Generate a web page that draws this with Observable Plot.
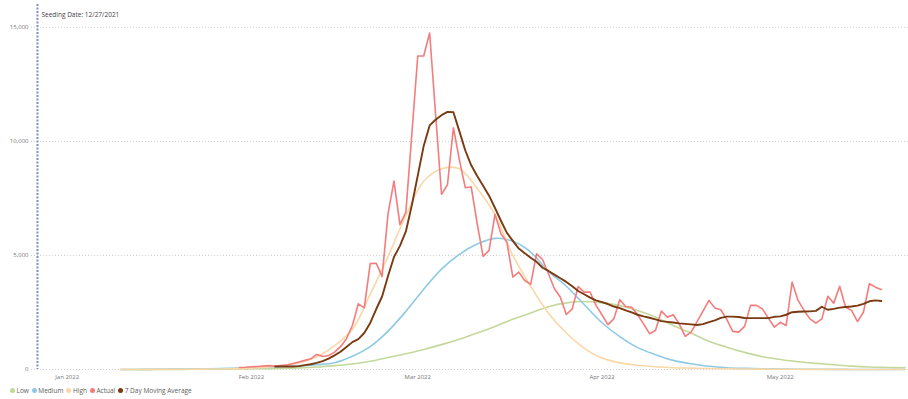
<!DOCTYPE html>
<html><head><meta charset="utf-8">
<script src="https://cdn.jsdelivr.net/npm/d3@7"></script>
<script src="https://cdn.jsdelivr.net/npm/@observablehq/plot@0.6"></script>
<style>
body{margin:0;background:#fff;font-family:"Open Sans",sans-serif;}
#legend{display:flex;align-items:center;height:17px;padding-left:10px;font-size:6.5px;color:#605e5c;}
.item{display:flex;align-items:center;margin-right:3px;}
.dot{width:5px;height:5px;border-radius:50%;margin-right:1.5px;}
</style></head><body><div id="chart"></div><div id="legend"></div>
<script>
// ---- data ----
const seedDate = "2021-12-27";
const seedLabel = "Seeding Date: 12/27/2021";
const yTicks = [0, 5000, 10000, 15000];
const monthTicks = ["2022-01-01", "2022-02-01", "2022-03-01", "2022-04-01", "2022-05-01"];

// Actual daily cases, Jan 30 2022 onward
const actualStart = "2022-01-30";
const actual = [90,100,120,130,150,170,140,175,200,260,330,400,470,660,570,610,760,1000,1350,1930,
2880,2700,4640,4660,4080,6830,8260,6350,6900,10300,13740,13740,14750,11200,7680,8100,10600,9200,7970,8000,
6390,4960,5220,6800,5950,5580,4050,4270,3900,3730,5070,4820,4200,3540,3170,2410,2660,3640,3390,3390,
2810,2400,1970,2220,3060,2760,2730,2400,2000,1570,1710,2560,2290,2400,2000,1450,1640,2100,2560,3030,
2700,2620,2200,1670,1640,1890,2810,2810,2660,2250,1860,2070,1930,3830,3030,2590,2220,2030,2220,3210,
2910,3650,2730,2590,2100,2510,3760,3610,3510];

// 7 day moving average, Feb 5 2022 onward
const avgStart = "2022-02-05";
const movingAvg = [130,130,130,130,150,190,230,290,365,480,620,780,990,1200,1330,1600,2040,2640,3200,4100,
4930,5420,6050,7200,8500,9800,10700,10950,11150,11290,11280,10450,9600,8950,8480,8050,7620,7080,6520,5990,
5640,5300,5100,4900,4720,4460,4320,4160,4000,3840,3650,3440,3300,3150,3030,2950,2870,2760,2690,2590,
2500,2400,2330,2270,2200,2120,2090,2060,2020,2000,1980,1950,1990,2080,2150,2260,2320,2320,2300,2260,
2250,2250,2250,2250,2310,2330,2400,2510,2530,2540,2550,2570,2750,2620,2660,2710,2740,2760,2800,2880,
2990,3030,3000];

// Model scenarios, every 3 days from Jan 10 2022
const modelStart = "2022-01-10";
const modelStepDays = 3;
const high = [0,2,5,8,12,20,30,50,90,170,290,560,1050,1750,3300,4950,6750,8250,8800,8800,
7930,6780,5000,3650,2470,1600,940,500,290,185,120,80,60,45,30,20,15,10,8,5,4,3,2,1,1];
const medium = [0,3,8,15,25,35,50,70,90,120,160,210,300,580,1000,1680,2550,3520,4400,5050,
5500,5750,5620,5150,4300,3650,2850,2050,1440,960,650,400,250,140,80,50,30,20,12,8,5,3,2,1,1];
const low = [0,2,4,6,9,12,17,25,35,45,70,110,170,240,360,530,690,880,1090,1330,
1600,1890,2200,2480,2750,2920,2980,2920,2800,2590,2300,1930,1600,1240,980,750,560,440,340,270,
210,150,110,90,75];

const seriesNames = ["Low", "Medium", "High", "Actual", "7 Day Moving Average"];
const seriesColors = ["#c5d89b", "#8ecae6", "#f9d8a6", "#f47c7c", "#7a3a12"];

// ---- build tables ----
const parse = d3.utcParse("%Y-%m-%d");
const daily = (start, vals, step = 1) => vals.map((v, i) => ({date: d3.utcDay.offset(parse(start), i * step), value: v}));
const actualData = daily(actualStart, actual);
const avgData = daily(avgStart, movingAvg);
const lowData = daily(modelStart, low, modelStepDays);
const medData = daily(modelStart, medium, modelStepDays);
const highData = daily(modelStart, high, modelStepDays);
const color = Object.fromEntries(seriesNames.map((n, i) => [n, seriesColors[i]]));

const xDomain = [new Date(Date.UTC(2021, 11, 26)), new Date(Date.UTC(2022, 4, 22, 14))];

const chart = Plot.plot({
  width: 908, height: 382,
  marginLeft: 31, marginRight: 0, marginTop: 4, marginBottom: 13,
  style: {fontFamily: "'Open Sans', sans-serif", fontSize: "6px", color: "#777", background: "#fff", overflow: "visible"},
  x: {type: "utc", domain: xDomain, ticks: monthTicks.map(parse), tickFormat: d3.utcFormat("%b %Y"), tickSize: 0, tickPadding: 5, label: null},
  y: {domain: [0, 16000], ticks: yTicks, tickFormat: d3.format(","), tickSize: 0, tickPadding: 3, label: null},
  marks: [
    Plot.ruleY(yTicks, {stroke: "#cfcfcf", strokeDasharray: "1,2", strokeWidth: 1}),
    Plot.ruleX([parse(seedDate)], {stroke: "#7d8ec9", strokeWidth: 2, strokeDasharray: "2,1.5"}),
    Plot.text([{date: parse(seedDate), label: seedLabel}], {x: "date", text: "label", frameAnchor: "top", dx: 4, dy: 8, textAnchor: "start", fill: "#444", fontSize: 6.5}),
    Plot.line(lowData, {x: "date", y: "value", stroke: color["Low"], strokeWidth: 1.6, curve: "catmull-rom"}),
    Plot.line(medData, {x: "date", y: "value", stroke: color["Medium"], strokeWidth: 1.6, curve: "catmull-rom"}),
    Plot.line(highData, {x: "date", y: "value", stroke: color["High"], strokeWidth: 1.6, curve: "catmull-rom"}),
    Plot.line(actualData, {x: "date", y: "value", stroke: color["Actual"], strokeWidth: 1.6}),
    Plot.line(avgData, {x: "date", y: "value", stroke: color["7 Day Moving Average"], strokeWidth: 1.9})
  ]
});
document.getElementById("chart").appendChild(chart);

const legend = document.getElementById("legend");
seriesNames.forEach((n, i) => {
  const it = document.createElement("div");
  it.className = "item";
  const dot = document.createElement("span");
  dot.className = "dot";
  dot.style.background = seriesColors[i];
  const t = document.createElement("span");
  t.textContent = n;
  it.appendChild(dot); it.appendChild(t);
  legend.appendChild(it);
});
</script></body></html>
